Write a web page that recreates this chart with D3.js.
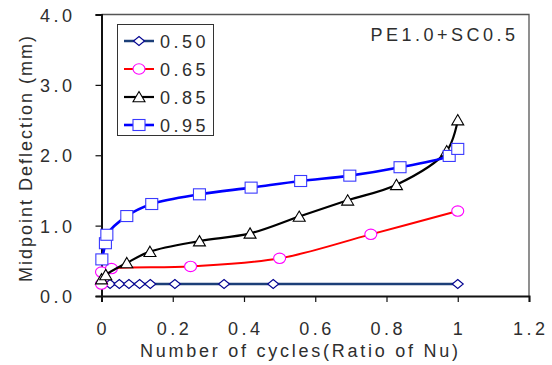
<!DOCTYPE html>
<html><head><meta charset="utf-8">
<script src="https://cdn.jsdelivr.net/npm/d3@7"></script>
<style>
body{margin:0;background:#fff;}
svg text{font-family:"Liberation Sans",Arial,sans-serif;fill:#2e2e2e;}
</style></head>
<body><svg id="c" width="552" height="365"></svg>
<script>
// ---- data ----
const seriesNames = ["0.50","0.65","0.85","0.95"];
const x050 = [0, 0.024, 0.05, 0.077, 0.107, 0.137, 0.206, 0.344, 0.482, 1.0];
const y050 = [0.17, 0.17, 0.17, 0.17, 0.17, 0.17, 0.17, 0.17, 0.17, 0.17];
const x065 = [0, 0, 0.028, 0.25, 0.50, 0.756, 1.0];
const y065 = [0.17, 0.34, 0.39, 0.42, 0.535, 0.876, 1.207];
const x085 = [0, 0.012, 0.071, 0.136, 0.275, 0.417, 0.555, 0.691, 0.828, 0.969, 1.0];
const y085 = [0.24, 0.30, 0.47, 0.63, 0.78, 0.89, 1.13, 1.36, 1.58, 2.06, 2.50];
const x095 = [0.001, 0.011, 0.015, 0.071, 0.141, 0.275, 0.42, 0.559, 0.697, 0.838, 0.976, 1.0];
const y095 = [0.52, 0.75, 0.87, 1.136, 1.307, 1.445, 1.54, 1.634, 1.71, 1.83, 1.99, 2.09];
const xTicks = [0, 0.2, 0.4, 0.6, 0.8, 1, 1.2];
const xTickLabels = ["0","0.2","0.4","0.6","0.8","1","1.2"];
const yTicks = [0, 1, 2, 3, 4];
const yTickLabels = ["0.0","1.0","2.0","3.0","4.0"];
const chartTitle = "PE1.0+SC0.5";
const xTitle = "Number of cycles(Ratio of Nu)";
const yTitle = "Midpoint Deflection (mm)";

const styles = [
  {line:"#1c3f78", stroke:"#000090", shape:"diamond", lw:2.5},
  {line:"#ff0000", stroke:"#ff00ff", shape:"circle", lw:2},
  {line:"#000000", stroke:"#000000", shape:"triangle", lw:2.2},
  {line:"#0000ff", stroke:"#3a3aff", shape:"square", lw:2.6}
];
const data = [
  d3.zip(x050, y050), d3.zip(x065, y065), d3.zip(x085, y085), d3.zip(x095, y095)
];

const svg = d3.select("#c");
const L = 101.5, R = 529, T = 14.5, B = 296;
const x = d3.scaleLinear().domain([0, 1.2]).range([L, R]);
const y = d3.scaleLinear().domain([0, 4]).range([B, T]);
const FS = 18, LS = 3.5;

// frame (top & right)
svg.append("path").attr("d", `M${L},${T}H${R}V${B}`).attr("fill","none")
  .attr("stroke","#555").attr("stroke-width",1.3);

// axes
const xAxis = d3.axisBottom(x).tickValues(xTicks).tickSize(6).tickFormat("");
const gx = svg.append("g").attr("transform",`translate(0,${B})`).call(xAxis);
gx.select(".domain").attr("stroke","#111").attr("stroke-width",2);
gx.selectAll(".tick line").attr("stroke","#111").attr("stroke-width",1.2);
const yAxis = d3.axisLeft(y).tickValues(yTicks).tickSize(6).tickFormat("");
const gy = svg.append("g").attr("transform",`translate(${L},0)`).call(yAxis);
gy.select(".domain").attr("stroke","#111").attr("stroke-width",2);
gy.selectAll(".tick line").attr("stroke","#111").attr("stroke-width",1.2);

// tick labels
svg.append("g").selectAll("text").data(xTicks).join("text")
  .attr("x", (d)=>x(d)+LS/2).attr("y", 335).attr("text-anchor","middle")
  .attr("font-size",FS).attr("letter-spacing",LS)
  .text((d,i)=>xTickLabels[i]);
svg.append("g").selectAll("text").data(yTicks).join("text")
  .attr("x", 72+LS).attr("y", (d)=>y(d)+7).attr("text-anchor","end")
  .attr("font-size",FS).attr("letter-spacing",LS)
  .text((d,i)=>yTickLabels[i]);

// titles
svg.append("text").attr("x", 299+1.4).attr("y", 357).attr("text-anchor","middle")
  .attr("font-size",FS).attr("letter-spacing",2.75).text(xTitle);
svg.append("text").attr("transform","translate(32,158) rotate(-90)").attr("text-anchor","middle")
  .attr("font-size",FS).attr("letter-spacing",2).text(yTitle);
svg.append("text").attr("x", 515+LS).attr("y", 41).attr("text-anchor","end")
  .attr("font-size",FS).attr("letter-spacing",LS).text(chartTitle);

// marker drawer
function marker(g, shape, stroke){
  if(shape==="diamond") g.append("path").attr("d","M0,-4.5L5.5,0L0,4.5L-5.5,0Z");
  else if(shape==="circle") g.append("ellipse").attr("rx",6).attr("ry",5.2);
  else if(shape==="triangle") g.append("path").attr("d","M0,-5.5L6,4.8L-6,4.8Z");
  else g.append("rect").attr("x",-6).attr("y",-5.5).attr("width",12).attr("height",11);
  g.selectAll("*").attr("fill","#fff").attr("stroke",stroke).attr("stroke-width",1.1);
}

const line = d3.line().x(d=>x(d[0])).y(d=>y(d[1])).curve(d3.curveCatmullRom.alpha(0.5));
data.forEach((pts,i)=>{
  const st = styles[i];
  svg.append("path").datum(pts).attr("d", line).attr("fill","none")
    .attr("stroke", st.line).attr("stroke-width", st.lw);
  const gm = svg.append("g");
  pts.forEach(p=>{
    const g = gm.append("g").attr("transform",`translate(${x(p[0])},${y(p[1])})`);
    marker(g, st.shape, st.stroke);
  });
});

// legend
const lg = svg.append("g");
lg.append("rect").attr("x",117.5).attr("y",24.5).attr("width",96).attr("height",111)
  .attr("fill","#fff").attr("stroke","#333").attr("stroke-width",1);
seriesNames.forEach((n,i)=>{
  const yy = 41 + i*28;
  lg.append("line").attr("x1",124).attr("x2",154).attr("y1",yy).attr("y2",yy)
    .attr("stroke",styles[i].line).attr("stroke-width",styles[i].lw);
  const g = lg.append("g").attr("transform",`translate(139,${yy})`);
  marker(g, styles[i].shape, styles[i].stroke);
  lg.append("text").attr("x",160).attr("y",yy+6.5).attr("font-size",FS)
    .attr("letter-spacing",LS).text(n);
});
</script></body></html>
